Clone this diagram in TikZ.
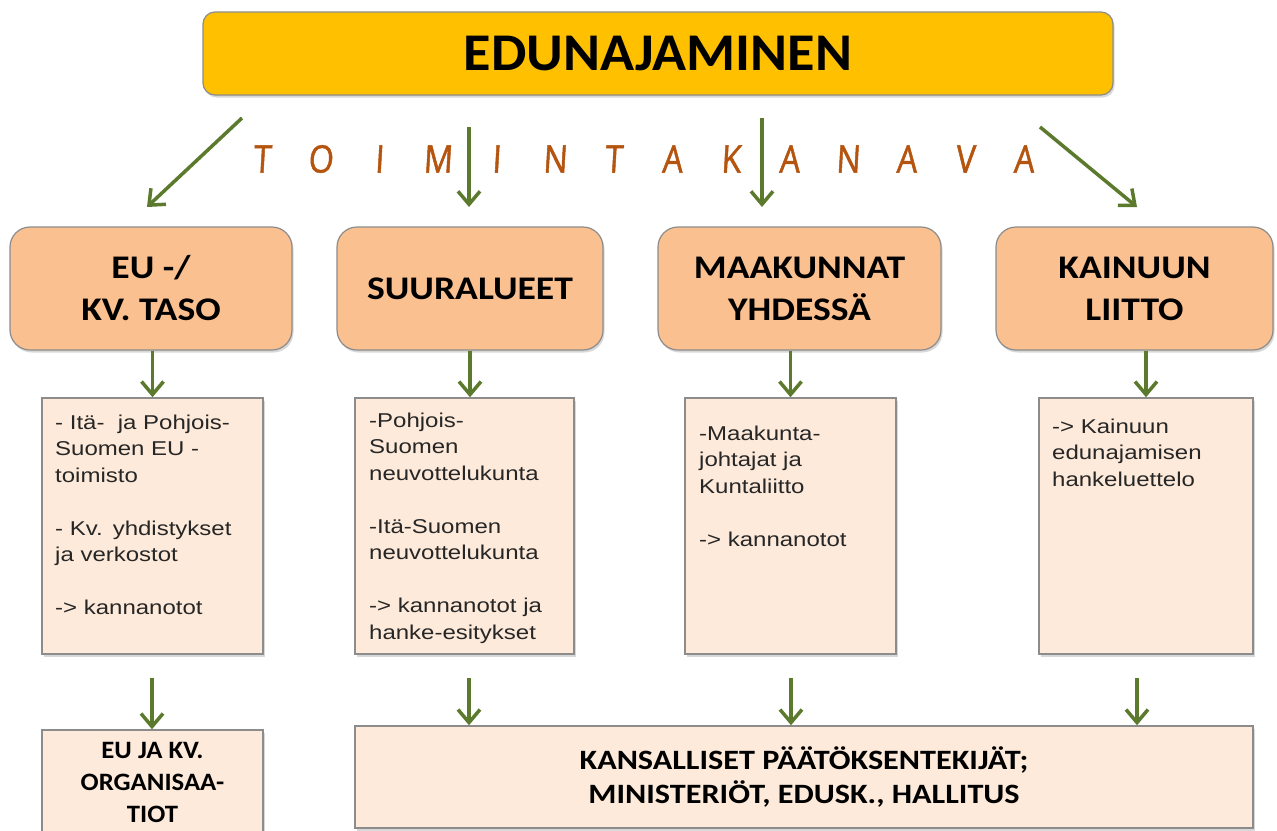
\documentclass[tikz,border=0pt]{standalone}
\usepackage{fontspec}
\setmainfont{Carlito}
\newfontfamily\arialf[FakeStretch=1.2]{Liberation Sans}
\newfontfamily\comicf[FakeStretch=0.85,FakeSlant=0.06,FakeBold=1.2]{Open Sans}
\newfontfamily\titlef[FakeStretch=1.06]{Carlito}
\newfontfamily\levelf[FakeStretch=1.14]{Carlito}
\newfontfamily\endAf[FakeStretch=1.07]{Carlito}
\newfontfamily\endBf[FakeStretch=1.15]{Carlito}
\usetikzlibrary{arrows.meta,shadows,calc}
\definecolor{gold}{HTML}{FFC000}
\definecolor{peach}{HTML}{FAC090}
\definecolor{cream}{HTML}{FDEADA}
\definecolor{olive}{HTML}{5C7A2E}
\definecolor{rust}{HTML}{B5540F}
\definecolor{edge}{HTML}{8C8C8C}
\begin{document}
\begin{tikzpicture}[x=1pt,y=-1pt,
  shad/.style={drop shadow={shadow xshift=1.5pt,shadow yshift=-2.5pt,opacity=0.3}},
  titlebox/.style={draw=edge,line width=1.2pt,fill=gold,rounded corners=12pt,shad,minimum width=910pt,minimum height=83pt,inner sep=0pt},
  levelbox/.style={draw=edge,line width=1.2pt,fill=peach,rounded corners=20pt,shad,minimum height=123pt,inner sep=0pt,align=center,font=\levelf\fontsize{33}{42}\selectfont\bfseries},
  notebox/.style={draw=edge,line width=1.5pt,fill=cream,shad,inner sep=0pt,minimum height=256pt},
  notetext/.style={anchor=base west,inner sep=0pt,text width=200pt,align=left,font=\arialf\fontsize{20}{26.5}\selectfont,text=black!85},
  endbox/.style={draw=edge,line width=1.5pt,fill=cream,shad,inner sep=0pt,align=center},
  arr/.style={draw=olive,line width=3.5pt,-{Straight Barb[length=13pt,width=22pt]}},
  chan/.style={font=\comicf\fontsize{38}{38}\selectfont,text=rust,inner sep=0pt}
]
\fill[white] (0,0) rectangle (1277,830);
\clip (0,0) rectangle (1277,830);

% title
\node[titlebox] (top) at (658,53.5) {\titlef\fontsize{53}{60}\selectfont\bfseries EDUNAJAMINEN};

% channel letters
\foreach \l [count=\i from 0] in {T,O,I,M,I,N,T,A,K,A,N,A,V,A}
  \node[chan] (ch\i) at ({262+58.6*\i},159) {\l};

% level boxes
\node[levelbox,minimum width=282pt] (l1) at (151,288.5) {EU -/\\KV. TASO};
\node[levelbox,minimum width=266pt] (l2) at (470,288.5) {SUURALUEET};
\node[levelbox,minimum width=283pt] (l3) at (799.5,288.5) {MAAKUNNAT\\YHDESSÄ};
\node[levelbox,minimum width=277pt] (l4) at (1134.5,288.5) {KAINUUN\\LIITTO};

% top arrows
\coordinate (a1s) at (242,118); \coordinate (a1e) at (147,207);
\coordinate (a2s) at (469,127); \coordinate (a2e) at (469,207);
\coordinate (a3s) at (762,118); \coordinate (a3e) at (762,207);
\coordinate (a4s) at (1040,127); \coordinate (a4e) at (1137,207);
\draw[arr] (a1s) -- (a1e);
\draw[arr] (a2s) -- (a2e);
\draw[arr] (a3s) -- (a3e);
\draw[arr] (a4s) -- (a4e);

% note boxes
\node[notebox,minimum width=221pt] (n1) at (152.5,526) {};
\node[notebox,minimum width=219pt] (n2) at (464.5,526) {};
\node[notebox,minimum width=211pt] (n3) at (790.5,526) {};
\node[notebox,minimum width=214pt] (n4) at (1146,526) {};

\node[notetext] (n1t) at (55,429) {- Itä-\ \ ja Pohjois-\\Suomen EU -\\toimisto\\[26.5pt]- Kv. yhdistykset\\ja verkostot\\[26.5pt]-> kannanotot};
\node[notetext] (n2t) at (369,427) {-Pohjois-\\Suomen\\neuvottelukunta\\[26.5pt]-Itä-Suomen\\neuvottelukunta\\[26.5pt]-> kannanotot ja\\hanke-esitykset};
\node[notetext] (n3t) at (699,440) {-Maakunta-\\johtajat ja\\Kuntaliitto\\[26.5pt]-> kannanotot};
\node[notetext] (n4t) at (1052,433) {-> Kainuun\\edunajamisen\\hankeluettelo};

% mid arrows
\draw[arr] (n1.north |- l1.south) -- (n1.north);
\draw[arr] (l2.south) -- (l2.south |- n2.north);
\draw[arr] (n3.north |- l3.south) -- (n3.north);
\draw[arr] (n4.north |- l4.south) -- (n4.north);

% end boxes
\node[endbox,minimum width=221pt,minimum height=104pt,font=\endAf\fontsize{25}{32}\selectfont\bfseries] (e1) at (152.5,782) {EU JA KV.\\ORGANISAA-\\TIOT};
\node[endbox,minimum width=898pt,minimum height=102pt,font=\endBf\fontsize{28}{34}\selectfont\bfseries] (e2) at (804,777) {KANSALLISET PÄÄTÖKSENTEKIJÄT;\\MINISTERIÖT, EDUSK., HALLITUS};

% bottom arrows
\coordinate (b1s) at (152,678);
\coordinate (b2s) at (469,678);
\coordinate (b3s) at (791,678);
\coordinate (b4s) at (1137,678);
\draw[arr] (b1s) -- (b1s |- e1.north);
\draw[arr] (b2s) -- (b2s |- e2.north);
\draw[arr] (b3s) -- (b3s |- e2.north);
\draw[arr] (b4s) -- (b4s |- e2.north);
\end{tikzpicture}
\end{document}
